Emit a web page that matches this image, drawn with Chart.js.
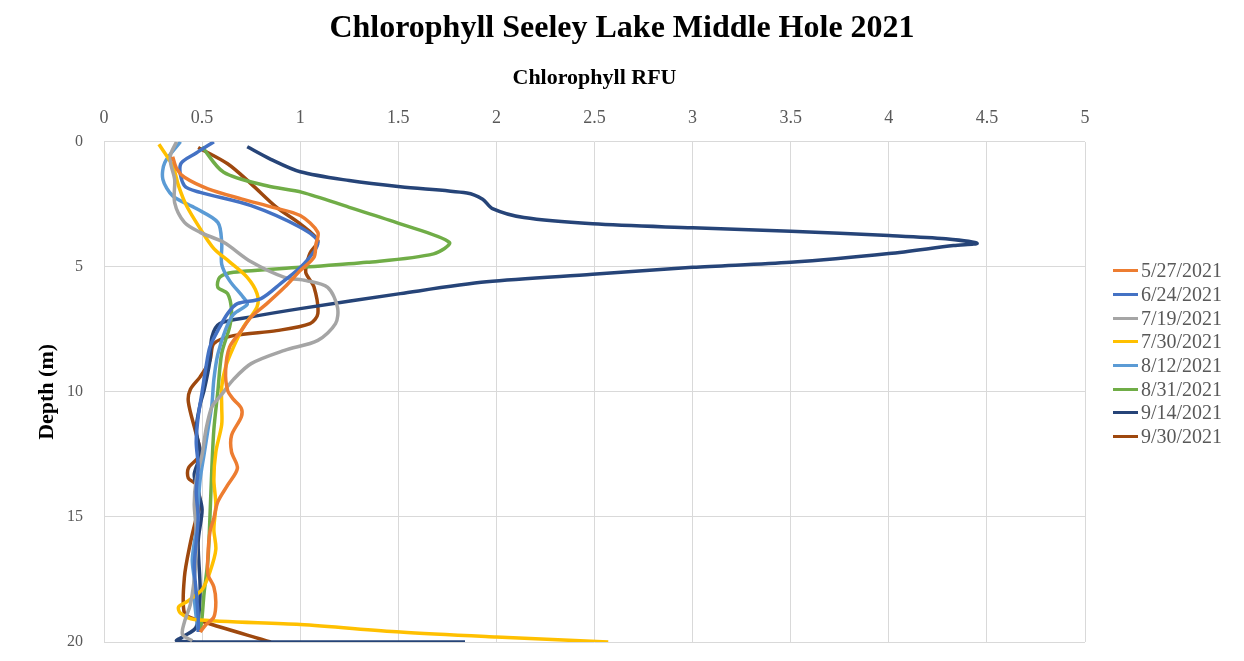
<!DOCTYPE html>
<html>
<head>
<meta charset="utf-8">
<script src="https://cdn.jsdelivr.net/npm/chart.js@4.4.1/dist/chart.umd.min.js"></script>
<style>
  body { margin: 0; background: #fff; }
  #wrap { position: relative; width: 1244px; height: 661px; }
  #legend { position: absolute; left: 1113px; top: 259px; font-family: "Liberation Serif", serif; font-size: 20px; color: #595959; }
  .item { height: 23.7px; display: flex; align-items: center; white-space: nowrap; }
  .swatch { width: 25px; height: 3px; margin-right: 3px; }
</style>
</head>
<body>
<div id="wrap">
  <canvas id="grafico" width="1244" height="661"></canvas>
  <div id="legend"></div>
</div>
<script>
// each profile: [chlorophyll RFU, depth m]
const dates = ['5/27/2021', '6/24/2021', '7/19/2021', '7/30/2021', '8/12/2021', '8/31/2021', '9/14/2021', '9/30/2021'];
const colors = ['#ED7D31', '#4472C4', '#A5A5A5', '#FFC000', '#5B9BD5', '#70AD47', '#264478', '#9E480E'];

const may27 = [[0.35,0.6],[0.37,1.07],[0.41,1.42],[0.53,1.88],[0.70,2.28],[0.86,2.62],[1.0,2.95],[1.09,3.62],[1.08,4.1],[1.07,4.62],[1.0,5.15],[0.92,5.82],[0.83,6.47],[0.75,7.0],[0.70,7.55],[0.64,8.21],[0.62,9.14],[0.63,9.94],[0.66,10.3],[0.70,10.66],[0.70,11.0],[0.65,11.74],[0.65,12.4],[0.68,13.05],[0.63,13.73],[0.58,14.4],[0.56,15.05],[0.54,15.6],[0.53,16.5],[0.53,17.3],[0.56,17.8],[0.57,18.4],[0.56,19.0],[0.52,19.3],[0.49,19.6]];
const jun24 = [[0.56,0],[0.47,0.45],[0.39,0.9],[0.41,1.76],[0.49,2.02],[0.75,2.55],[1.0,3.42],[1.09,4.02],[1.02,4.87],[0.90,5.67],[0.80,6.27],[0.68,6.47],[0.63,6.87],[0.58,7.55],[0.54,8.2],[0.52,9.0],[0.50,10.0],[0.48,11],[0.47,12],[0.48,13],[0.47,14],[0.48,15],[0.47,16],[0.46,17],[0.47,18],[0.48,19],[0.48,19.6]];
const jul19 = [[0.37,0],[0.34,0.5],[0.34,0.88],[0.36,1.5],[0.36,2.43],[0.41,3.22],[0.49,3.62],[0.61,4.02],[0.75,4.8],[0.92,5.42],[1.03,5.55],[1.14,5.82],[1.19,6.61],[1.18,7.27],[1.09,7.94],[0.92,8.34],[0.75,8.87],[0.66,9.5],[0.60,10.1],[0.55,10.6],[0.52,11.5],[0.50,12.5],[0.47,13.5],[0.46,14.5],[0.47,15.5],[0.47,16.5],[0.46,17.5],[0.44,18.5],[0.41,19.2],[0.40,19.7],[0.45,19.95]];
const jul30 = [[0.28,0.1],[0.35,0.96],[0.38,1.76],[0.42,2.55],[0.49,3.47],[0.56,4.27],[0.64,4.8],[0.73,5.42],[0.78,6.07],[0.78,6.6],[0.71,7.41],[0.66,8.21],[0.62,9.0],[0.60,9.8],[0.60,10.6],[0.60,11.3],[0.57,12.4],[0.56,13.5],[0.57,14.5],[0.56,15.5],[0.57,16.3],[0.54,17.2],[0.50,17.9],[0.42,18.4],[0.38,18.6],[0.39,18.85],[0.46,19.1],[1.0,19.3],[1.51,19.6],[2.0,19.8],[2.57,20]];
const aug12 = [[0.39,0],[0.31,0.83],[0.30,1.5],[0.35,2.16],[0.47,2.67],[0.58,3.22],[0.60,4.02],[0.60,4.9],[0.64,5.55],[0.71,6.22],[0.73,6.5],[0.66,6.9],[0.62,7.5],[0.58,8.5],[0.56,9.5],[0.55,10.5],[0.53,11.5],[0.51,12.5],[0.49,13.5],[0.48,14.5],[0.47,15.5],[0.45,16.7],[0.46,17.5],[0.46,18.2],[0.47,19],[0.48,19.5]];
const aug31 = [[0.50,0.2],[0.61,1.22],[0.83,1.76],[1.01,2.02],[1.25,2.62],[1.51,3.28],[1.76,4.02],[1.68,4.48],[1.34,4.82],[1.0,5.02],[0.66,5.22],[0.59,5.42],[0.58,5.82],[0.63,6.07],[0.65,6.75],[0.64,7.41],[0.60,8.46],[0.58,10.0],[0.56,11.5],[0.55,13],[0.54,15],[0.53,16.7],[0.51,18.05],[0.50,19],[0.49,19.6]];
const sep14 = [[0.73,0.2],[0.85,0.7],[1.0,1.2],[1.25,1.55],[1.51,1.8],[1.85,2.05],[1.93,2.3],[1.98,2.67],[2.14,3.03],[2.49,3.28],[3.0,3.44],[3.5,3.58],[4.0,3.75],[4.29,3.88],[4.45,4.06],[4.33,4.15],[4.0,4.47],[3.5,4.82],[3.0,5.02],[2.49,5.3],[1.95,5.6],[1.51,6.07],[1.0,6.67],[0.75,7.0],[0.59,7.27],[0.55,7.8],[0.54,8.74],[0.51,9.94],[0.49,10.5],[0.47,11.5],[0.49,12.5],[0.46,13.3],[0.48,14],[0.50,14.7],[0.48,16],[0.49,18],[0.47,19.4],[0.40,19.8],[0.37,19.95],[0.5,20],[1.84,20]];
const sep30 = [[0.48,0.23],[0.63,0.88],[0.75,1.68],[0.88,2.62],[1.0,3.28],[1.09,3.95],[1.05,4.45],[1.03,5.0],[1.03,5.27],[1.07,5.8],[1.09,6.87],[1.05,7.27],[0.88,7.55],[0.66,7.75],[0.56,8.07],[0.54,8.74],[0.49,9.4],[0.44,9.9],[0.43,10.4],[0.47,11.7],[0.49,12.5],[0.43,13.05],[0.43,13.45],[0.47,13.7],[0.49,14.5],[0.47,15.05],[0.44,16.05],[0.41,17.4],[0.41,18.85],[0.47,19.1],[0.85,20]];

const profiles = [may27, jun24, jul19, jul30, aug12, aug31, sep14, sep30];

Chart.defaults.font.family = "'Liberation Serif', 'Times New Roman', serif";

const ctx = document.getElementById('grafico').getContext('2d');
new Chart(ctx, {
    type: 'scatter',
    data: {
        datasets: profiles.map((p, i) => ({
            label: dates[i],
            data: p.map(([x, y]) => ({ x: x, y: y })),
            showLine: true,
            borderColor: colors[i],
            backgroundColor: colors[i],
            borderWidth: 3.5,
            pointRadius: 0,
            tension: 0.3,
            fill: false
        }))
    },
    options: {
        responsive: false,
        animation: false,
        layout: { padding: { left: 0, right: 0, top: 0, bottom: 19 } },
        plugins: {
            legend: { display: false },
            tooltip: { enabled: false },
            title: {
                display: true,
                text: 'Chlorophyll Seeley Lake Middle Hole 2021',
                color: '#000',
                font: { size: 32, weight: 'bold' },
                padding: { top: 10, bottom: 16.4 }
            }
        },
        scales: {
            x: {
                type: 'linear',
                position: 'top',
                min: 0,
                max: 5,
                ticks: { stepSize: 0.5, padding: 12.8, color: '#595959', font: { size: 18 }, callback: v => String(v) },
                grid: { color: '#d9d9d9', drawTicks: false },
                border: { display: false },
                title: { display: true, text: 'Chlorophyll RFU', color: '#000', font: { size: 22, weight: 'bold' }, padding: { top: 0, bottom: 3.4 } }
            },
            y: {
                type: 'linear',
                reverse: true,
                min: 0,
                max: 20,
                // invisible tick marks give the gap between labels and plot
                ticks: { stepSize: 5, padding: 3, color: '#595959', font: { size: 16 } },
                grid: { color: '#d9d9d9', drawTicks: true, tickLength: 18, tickColor: 'rgba(0,0,0,0)' },
                border: { display: false },
                title: { display: true, text: 'Depth (m)', color: '#000', font: { size: 22, weight: 'bold' }, padding: { top: 33.8, bottom: 0 } },
                afterFit: s => { s.width = 104; }
            },
            // empty right-hand axis that keeps room for the legend
            side: {
                type: 'linear',
                position: 'right',
                grid: { display: false },
                border: { display: false },
                ticks: { display: false },
                afterFit: s => { s.width = 159; }
            }
        }
    }
});

// legend on the right, same order as the datasets
const legend = document.getElementById('legend');
dates.forEach((d, i) => {
    const row = document.createElement('div');
    row.className = 'item';
    row.innerHTML = '<span class="swatch" style="background:' + colors[i] + '"></span>' + d;
    legend.appendChild(row);
});
</script>
</body>
</html>
